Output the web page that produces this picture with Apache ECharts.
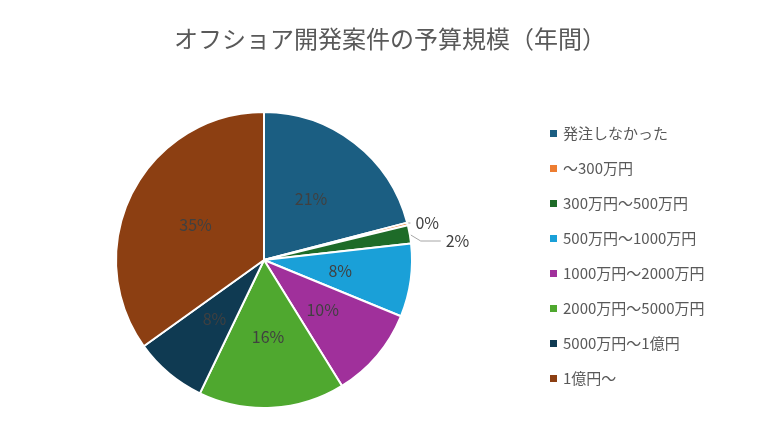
<!DOCTYPE html>
<html><head><meta charset="utf-8">
<script src="https://cdn.jsdelivr.net/npm/echarts@6/dist/echarts.min.js"></script>
<style>html,body{margin:0;padding:0;background:#fff}#c{width:769px;height:448px}</style>
</head><body><div id="c"></div>
<script>
const categories = ['発注しなかった','～300万円','300万円～500万円','500万円～1000万円','1000万円～2000万円','2000万円～5000万円','5000万円～1億円','1億円～'];
const values = [21, 0.3, 2, 8, 10, 16, 8, 35];
const labels = ['21%','0%','2%','8%','10%','16%','8%','35%'];
const colors = ['#1b5e82','#ed7d31','#1e6b28','#1aa0d8','#a0309b','#4fa82f','#0f3a52','#8c3f12'];
const font = '"Noto Sans CJK JP", "Noto Sans", sans-serif';
const chart = echarts.init(document.getElementById('c'));
chart.setOption({
  animation:false,
  title:{text:'オフショア開発案件の予算規模（年間）',left:385,top:22,textAlign:'center',
    textStyle:{fontFamily:font,fontSize:24,fontWeight:'normal',color:'#595959'}},
  legend:{orient:'vertical',left:543,top:121,itemWidth:9,itemHeight:9,itemGap:20,icon:'rect',
    textStyle:{fontFamily:font,fontSize:15,color:'#595959'},data:categories},
  series:[{type:'pie',center:[264,260],radius:148,startAngle:90,clockwise:true,
    itemStyle:{borderColor:'#fff',borderWidth:2},
    label:{position:'inside',fontFamily:font,fontSize:16,color:'#404040',
      formatter:p=>labels[p.dataIndex]},
    labelLine:{show:true,lineStyle:{color:'#a6a6a6'},length:10,length2:20},
    data:categories.map((c,i)=>{
      const d={name:c,value:values[i],itemStyle:{color:colors[i]}};
      if(i===1||i===2){d.label={position:'outside',color:'#404040'};d.labelLine={show:true,length:i===1?4:15,length2:i===1?4:20};}
      else d.labelLine={show:false};
      return d;
    })
  }]
});
</script></body></html>
